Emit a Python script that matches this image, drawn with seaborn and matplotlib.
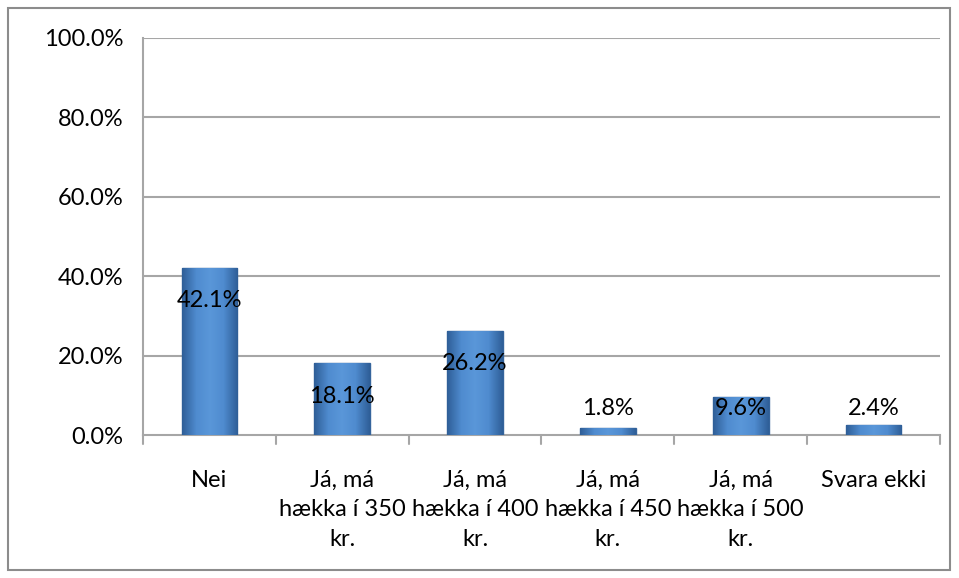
import matplotlib
matplotlib.use("Agg")
import matplotlib.pyplot as plt
import seaborn as sns
import pandas as pd
import numpy as np
from matplotlib.patches import Rectangle
from matplotlib.colors import LinearSegmentedColormap

# ── data ──────────────────────────────────────────────────────────────────
categories = ["Nei", "Já, má\nhækka í 350\nkr.", "Já, má\nhækka í 400\nkr.",
              "Já, má\nhækka í 450\nkr.", "Já, má\nhækka í 500\nkr.", "Svara ekki"]
values = [42.1, 18.1, 26.2, 1.8, 9.6, 2.4]
yticks = [0, 20, 40, 60, 80, 100]

df = pd.DataFrame({"cat": categories, "val": values})

sns.set_style("white")
plt.rcParams["font.family"] = ["Lato", "DejaVu Sans"]
plt.rcParams["text.color"] = "black"
plt.rcParams["xtick.labelcolor"] = "black"
plt.rcParams["ytick.labelcolor"] = "black"

fig = plt.figure(figsize=(9.59, 5.78), dpi=100)
ax = fig.add_axes([143 / 959, 1 - 435 / 578, (940 - 143) / 959, (435 - 38) / 578])

grid_c = "#a6a6a6"
sns.barplot(data=df, x="cat", y="val", color="#4a85c9", width=0.42,
            edgecolor="#35649c", linewidth=1.0, saturation=1, ax=ax, zorder=3)

# bevel-like shading on each bar
shade = LinearSegmentedColormap.from_list(
    "bevel", ["#2f5f98", "#4f8bcf", "#5a97d9", "#4f8bcf", "#2f5f98"])
grad = np.linspace(0, 1, 64).reshape(1, -1)
for p in ax.patches:
    x0, y0 = p.get_x(), p.get_y()
    w, h = p.get_width(), p.get_height()
    im = ax.imshow(grad, cmap=shade, aspect="auto", zorder=3.5,
                   extent=[x0, x0 + w, y0, y0 + h])
    im.set_clip_path(p)

ax.set_ylim(0, 100)
ax.set_xlim(-0.5, len(categories) - 0.5)
ax.set_yticks(yticks)
ax.set_yticklabels([f"{t:.1f}%" for t in yticks], fontsize=17)
ax.set_xticks(range(len(categories)))
ax.set_xticklabels(categories, fontsize=17, linespacing=1.5)
ax.tick_params(axis="x", length=0, pad=25)
ax.tick_params(axis="y", length=9, width=1.5, color=grid_c, pad=5, direction="out")
for t in yticks[1:]:
    ax.axhline(t, color=grid_c, lw=1.5, zorder=1)
ax.set_xlabel("")
ax.set_ylabel("")

for s in ["top", "right"]:
    ax.spines[s].set_visible(False)
for s in ["left", "bottom"]:
    ax.spines[s].set_color(grid_c)
    ax.spines[s].set_linewidth(1.5)

# category separator ticks on x axis
for k in range(len(categories) + 1):
    ax.plot([k - 0.5, k - 0.5], [0, -2.2], color=grid_c, lw=1.5, clip_on=False)

# data labels (inside end, lifted above short bars)
for i, v in enumerate(values):
    ax.text(i, max(v - 8.3, 6.8), f"{v:.1f}%", ha="center", va="center",
            fontsize=17, zorder=5)

# outer chart border
fig.patches.append(Rectangle((8 / 959, 8 / 578), 942 / 959, 562 / 578,
                             transform=fig.transFigure, fill=False,
                             edgecolor="#8c8c8c", lw=1.5))

fig.savefig("out.png", dpi=100)
